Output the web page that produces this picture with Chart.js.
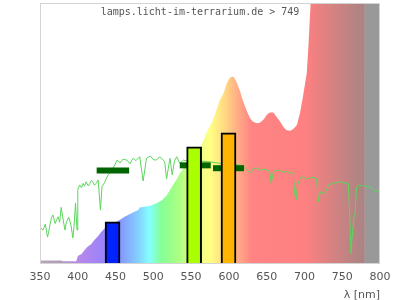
<!DOCTYPE html>
<html>
<head>
<meta charset="utf-8">
<script src="https://cdn.jsdelivr.net/npm/chart.js@4/dist/chart.umd.min.js"></script>
<style>
  html, body { margin: 0; padding: 0; background: #fff; }
  #wrap { width: 400px; height: 300px; }
</style>
</head>
<body>
<div id="wrap"><canvas id="lampChart"></canvas></div>
<script>
// ===============================
// DONNEES
// ===============================

const titleText = "lamps.licht-im-terrarium.de > 749";
const xTicks = [350, 400, 450, 500, 550, 600, 650, 700, 750, 800];

// spectre de la lampe (nm / intensité relative)
const lampNm = [350, 378, 380, 398, 400, 405, 409, 413, 418, 422, 427, 431, 436, 446, 457, 462, 471, 480,
  482, 496, 504, 511, 518, 522, 526, 531, 535, 540, 557, 564, 571, 579, 588, 593, 597, 601.5, 606,
  610, 615, 619, 624, 628, 632, 637, 641, 646, 650, 654, 659, 663, 668, 672, 676, 681, 685, 690,
  694, 698, 703, 705, 707, 710, 780];
const lampVal = [1.3, 1.3, 1.1, 1.1, 3.1, 3.8, 5.4, 6.6, 7.7, 9.2, 10.7, 12.3, 13.8, 15.3, 17.1, 18.1, 19.4, 20.7,
  21.6, 22.3, 23.3, 24.3, 26.4, 28.4, 30.3, 32.5, 34.8, 36.7, 42.5, 45.6, 50.7, 55.2, 62.8, 65.4, 69.2, 71.5, 71.8,
  69.8, 66.0, 62.2, 58.4, 55.8, 54.5, 53.9, 54.1, 55.4, 57.1, 58.0, 58.0, 56.4, 54.5, 52.6, 51.3, 51.1, 51.6, 53.3,
  57.7, 64.1, 73.1, 82, 93.5, 110, 110];

// spectre solaire (référence)
const sunNm = [350, 354, 357, 360, 363, 365, 367, 370, 372, 374, 376, 378, 380, 383, 385, 388, 391, 393.5, 395, 397,
  399, 400, 402.5, 405, 407, 409, 411, 414, 416, 418, 420, 422, 424.5, 427, 430, 432, 436, 440, 444, 449, 452,
  456, 460, 465, 469, 473, 477, 482, 486.5, 491, 496, 500, 504, 508, 511, 515, 517.5, 522, 525, 528, 531, 535,
  540, 550, 560, 575, 585, 600, 615, 619, 624, 628, 632, 637, 642, 646, 650, 654, 656, 659, 664, 668, 672,
  676, 681, 685, 687.5, 688.5, 691, 694, 698, 703, 708, 712, 716, 718.5, 721, 725, 728, 732, 738, 743, 747,
  752, 758, 760, 761.5, 763.8, 765.6, 767, 769, 773, 778, 785, 790, 794, 797, 800];
const sunVal = [14.1, 13.0, 15.3, 10.3, 14.6, 17.6, 18.8, 15.5, 16.9, 18.1, 16.0, 21.7, 18.1, 13.0, 16.2, 17.9, 14.9, 10.0, 14.3, 23.3,
  13.0, 28.4, 30.3, 29.2, 30.9, 29.8, 31.5, 29.9, 30.9, 32.0, 31.5, 30.2, 30.9, 32.2, 20.7, 29.6, 31.5, 34.1, 35.4, 37.9, 39.8,
  38.7, 40.2, 39.8, 38.4, 40.5, 39.6, 41.1, 31.8, 40.5, 41.4, 40.0, 39.8, 41.0, 40.5, 39.2, 32.6, 40.5, 34.1, 39.6, 41.1, 38.6,
  39.8, 39.1, 39.5, 39.1, 38.7, 38.3, 37.9, 37.3, 36.0, 34.9, 36.4, 36.7, 36.0, 36.3, 36.0, 35.6, 30.9, 35.4, 35.9, 35.8, 35.2,
  35.4, 35.0, 34.8, 26.4, 24.5, 30.3, 32.8, 33.4, 32.6, 33.0, 33.2, 32.8, 23.9, 27.7, 27.1, 27.7, 30.3, 30.9, 31.3, 31.5,
  31.0, 30.9, 18.1, 4.1, 13.0, 18.1, 19.4, 29.6, 30.2, 29.9, 29.7, 29.0, 27.7, 28.2, 27.7];

// bandes (moyennes) et canaux
const bandStart = [425, 535, 579];
const bandEnd = [468, 576, 620];
const bandVal = [35.8, 37.8, 36.7];

const barNm = [446, 554, 599.5];
const barVal = [16.2, 44.9, 50.3];
const barColors = ["#0022ff", "#aaff00", "#ffb400"];

// couleurs du spectre visible
const rainbowNm = [350, 378, 400, 420, 440, 460, 480, 495, 510, 530, 555, 575, 595, 610, 630, 700, 780];
const rainbowCol = ["#b4a8b4", "#b09cbc", "#b88ae8", "#a884f4", "#9484fc", "#84a0ff", "#84d0ff", "#84ffff",
  "#84ff98", "#a4ff84", "#e4ff84", "#ffff84", "#ffd884", "#ffb084", "#ff8484", "#ff8080", "#a88484"];

// ===============================
// GRAPHIQUE
// ===============================

const X_MIN = 350, X_MAX = 800;

function rainbowFill(context) {
  const chart = context.chart;
  const { ctx, chartArea, scales } = chart;
  if (!chartArea) return "#ff8080";
  const x0 = scales.x.getPixelForValue(X_MIN);
  const x1 = scales.x.getPixelForValue(X_MAX);
  const g = ctx.createLinearGradient(x0, 0, x1, 0);
  rainbowNm.forEach((nm, i) => {
    g.addColorStop((nm - X_MIN) / (X_MAX - X_MIN), rainbowCol[i]);
  });
  return g;
}

const bandDatasets = bandStart.map((s, i) => ({
  type: 'line',
  data: [{ x: s, y: bandVal[i] }, { x: bandEnd[i], y: bandVal[i] }],
  borderColor: "#006400",
  borderWidth: 6,
  borderCapStyle: 'butt',
  pointRadius: 0,
  order: 1
}));

const decorPlugin = {
  id: 'decor',
  beforeDatasetsDraw(chart) {
    const { ctx, chartArea, scales } = chart;
    const gx = scales.x.getPixelForValue(780);
    ctx.save();
    ctx.fillStyle = "#999999";
    ctx.fillRect(gx, chartArea.top, chartArea.right - gx, chartArea.bottom - chartArea.top);
    ctx.restore();
  },
  afterDraw(chart) {
    const { ctx, chartArea } = chart;
    ctx.save();
    ctx.strokeStyle = "#d4d4d4";
    ctx.lineWidth = 1;
    ctx.strokeRect(chartArea.left + 0.5, chartArea.top + 0.5,
      chartArea.right - chartArea.left - 1, chartArea.bottom - chartArea.top - 1);
    ctx.fillStyle = "#555555";
    ctx.font = "10px 'DejaVu Sans Mono'";
    ctx.textAlign = "center";
    ctx.textBaseline = "middle";
    ctx.fillText(titleText, 200, 12);
    ctx.restore();
  }
};

const ctx = document.getElementById('lampChart').getContext('2d');
new Chart(ctx, {
  type: 'bar',
  data: {
    datasets: [
      {
        type: 'bar',
        data: barNm.map((x, i) => ({ x: x, y: barVal[i] })),
        backgroundColor: barColors,
        borderColor: "#000000",
        borderWidth: 2,
        borderSkipped: 'bottom',
        barThickness: 15,
        order: 0
      },
      ...bandDatasets,
      {
        type: 'line',
        data: sunNm.map((x, i) => ({ x: x, y: sunVal[i] })),
        borderColor: "#5cd65c",
        borderWidth: 1,
        pointRadius: 0,
        tension: 0,
        order: 2
      },
      {
        type: 'line',
        data: lampNm.map((x, i) => ({ x: x, y: lampVal[i] })),
        borderWidth: 0,
        borderColor: 'rgba(0,0,0,0)',
        backgroundColor: rainbowFill,
        fill: 'origin',
        pointRadius: 0,
        tension: 0,
        order: 3
      }
    ]
  },
  options: {
    responsive: true,
    maintainAspectRatio: false,
    animation: false,
    layout: { padding: { left: 40, right: 20, top: 3, bottom: 0 } },
    plugins: {
      legend: { display: false },
      tooltip: { enabled: false }
    },
    scales: {
      x: {
        type: 'linear',
        min: X_MIN,
        max: X_MAX,
        offset: false,
        afterBuildTicks: axis => { axis.ticks = xTicks.map(v => ({ value: v })); },
        afterFit: axis => { axis.height = 36; },
        grid: { display: false, drawTicks: false },
        border: { display: false },
        ticks: {
          color: "#555555",
          padding: 7,
          maxRotation: 0,
          autoSkip: false,
          font: { family: "'DejaVu Sans'", size: 11 }
        },
        title: {
          display: true,
          text: "λ [nm]",
          align: 'end',
          color: "#555555",
          padding: { top: 0, bottom: -2 },
          font: { family: "'DejaVu Sans'", size: 11 }
        }
      },
      y: {
        display: false,
        min: 0,
        max: 100
      }
    }
  },
  plugins: [decorPlugin]
});
</script>
</body>
</html>
